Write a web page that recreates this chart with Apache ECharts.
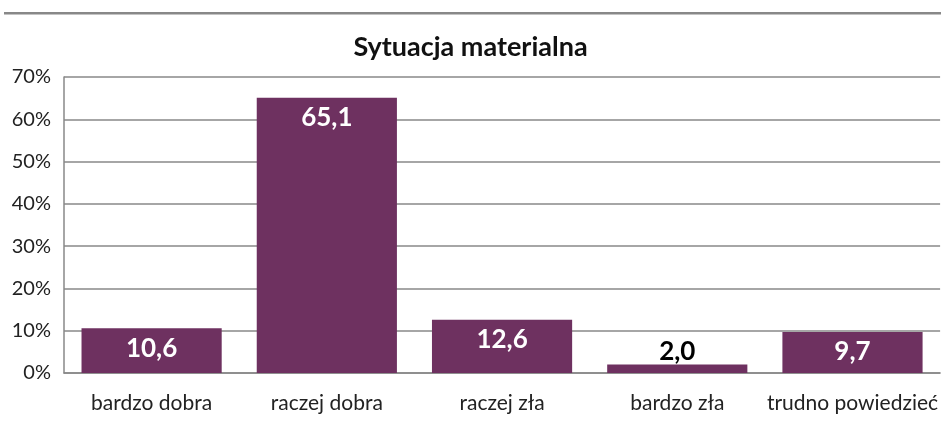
<!DOCTYPE html>
<html><head><meta charset="utf-8">
<script src="https://cdn.jsdelivr.net/npm/echarts@6/dist/echarts.min.js"></script>
<style>html,body{margin:0;padding:0;background:#fff}#c{width:941px;height:427px}</style>
</head><body><div id="c"></div>
<script>
const categories = ['bardzo dobra', 'raczej dobra', 'raczej zła', 'bardzo zła', 'trudno powiedzieć'];
const values = [10.6, 65.1, 12.6, 2.0, 9.7];
const yTicks = [0, 10, 20, 30, 40, 50, 60, 70];

const chart = echarts.init(document.getElementById('c'));
const fmt = v => v.toFixed(1).replace('.', ',');
chart.setOption({
  animation: false,
  graphic: [{type: 'rect', shape: {x: 4, y: 12, width: 937, height: 2.5}, style: {fill: '#888'}}],
  title: {text: 'Sytuacja materialna', left: 'center', top: 29,
    textStyle: {fontFamily: 'Lato', fontWeight: 'bold', fontSize: 27, color: '#111'}},
  grid: {left: 64, right: 0, top: 77, bottom: 54, containLabel: false},
  xAxis: {type: 'category', data: categories,
    axisLine: {lineStyle: {color: '#888', width: 1.5}}, axisTick: {show: false},
    axisLabel: {interval: 0, fontFamily: 'Lato', fontSize: 21, color: '#222', margin: 20}},
  yAxis: {type: 'value', min: yTicks[0], max: yTicks[yTicks.length - 1], interval: 10,
    axisLine: {show: true, lineStyle: {color: '#888', width: 1.5}}, axisTick: {show: false},
    splitLine: {lineStyle: {color: '#888', width: 1.5}},
    axisLabel: {fontFamily: 'Lato', fontSize: 20, color: '#222', margin: 13, formatter: v => v + '%'}},
  series: [{type: 'bar', barCategoryGap: '20%',
    data: values.map(v => ({value: v, label: v < 5 ? {position: 'top', color: '#000', distance: 0} : {}})),
    itemStyle: {color: '#6E3160'},
    label: {show: true, position: 'insideTop', distance: 7, color: '#fff', fontFamily: 'Lato',
      fontWeight: 'bold', fontSize: 26, formatter: p => fmt(p.value)}}]
});
</script></body></html>
